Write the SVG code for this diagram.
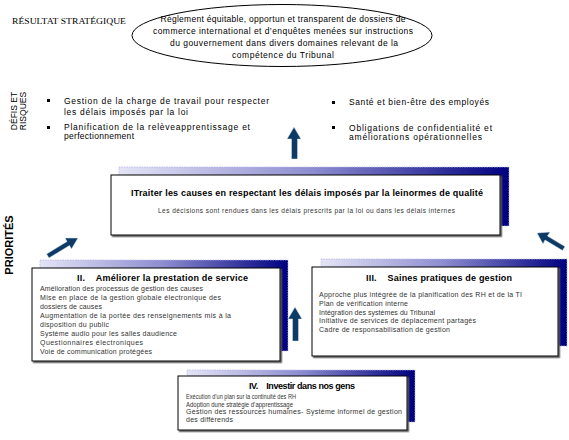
<svg xmlns="http://www.w3.org/2000/svg" width="569" height="440" viewBox="0 0 569 440">
<defs>
<linearGradient id="strip" x1="0" y1="0" x2="1" y2="0">
<stop offset="0" stop-color="#e4e4f6"/>
<stop offset="0.5" stop-color="#8c8cd0"/>
<stop offset="1" stop-color="#000080"/>
</linearGradient>
<filter id="sh" x="-5%" y="-5%" width="110%" height="115%">
<feDropShadow dx="1.5" dy="1.5" stdDeviation="0.4" flood-color="#555" flood-opacity="1"/>
</filter>
</defs>
<style>
.sans{font-family:"Liberation Sans",Arial,sans-serif}
.strip{fill:url(#strip);stroke:#b8b8e8;stroke-width:0.8;stroke-dasharray:1.5 1}
.box{fill:#fff;stroke:#000;stroke-width:1;filter:url(#sh)}
.ttl{font-family:"Liberation Sans",Arial,sans-serif;font-size:9px;font-weight:bold;fill:#000}
.itm{font-family:"Liberation Sans",Arial,sans-serif;font-size:7px;fill:#333}
.sm{font-family:"Liberation Sans",Arial,sans-serif;font-size:6.6px;fill:#333}
.bul{font-family:"Liberation Sans",Arial,sans-serif;font-size:8.5px;fill:#000}
.ell{font-family:"Liberation Sans",Arial,sans-serif;font-size:8.5px;fill:#000;text-anchor:middle}
.arrow{fill:#0e3a66;stroke:#dfe8f2;stroke-width:0.5}
</style>
<g id="strategic-result">
<text x="12" y="24" font-family="Liberation Serif,Times New Roman,serif" font-size="8.5" textLength="114" lengthAdjust="spacingAndGlyphs">RÉSULTAT STRATÉGIQUE</text>
<ellipse cx="282" cy="35.5" rx="150" ry="31" fill="#fff" stroke="#000" stroke-width="1"/>
<text class="ell" x="283" y="22" textLength="245">Règlement équitable, opportun et transparent de dossiers de</text>
<text class="ell" x="283" y="34" textLength="260">commerce international et d’enquêtes menées sur instructions</text>
<text class="ell" x="284" y="46" textLength="228">du gouvernement dans divers domaines relevant de la</text>
<text class="ell" x="283" y="58" textLength="102">compétence du Tribunal</text>
</g>
<g id="challenges">
<text class="sans" font-size="8.5" text-anchor="middle" transform="translate(17,111) rotate(-90)">DÉFIS ET</text>
<text class="sans" font-size="8.5" text-anchor="middle" transform="translate(26,111) rotate(-90)">RISQUES</text>
<rect x="47" y="99" width="3" height="3" fill="#000"/>
<text class="bul" x="64" y="104" textLength="205">Gestion de la charge de travail pour respecter</text>
<text class="bul" x="64" y="114.5" textLength="124">les délais imposés par la loi</text>
<rect x="47" y="126" width="3" height="3" fill="#000"/>
<text class="bul" x="64" y="129.5" textLength="186">Planification de la relèveapprentissage et</text>
<text class="bul" x="64" y="139" textLength="70">perfectionnement</text>
<rect x="332" y="101" width="3" height="3" fill="#000"/>
<text class="bul" x="349" y="105" textLength="140">Santé et bien-être des employés</text>
<rect x="332" y="126" width="3" height="3" fill="#000"/>
<text class="bul" x="349" y="130.5" textLength="143">Obligations de confidentialité et</text>
<text class="bul" x="349" y="140" textLength="133">améliorations opérationnelles</text>
</g>
<g id="priorities-label">
<text class="sans" font-size="11" font-weight="bold" text-anchor="middle" transform="translate(13,245) rotate(-90)">PRIORITÉS</text>
</g>
<g id="main-priority">
<rect class="strip" x="119" y="167" width="390" height="59"/>
<rect class="box" x="111" y="175" width="389" height="60"/>
<text class="ttl" x="131" y="196" textLength="352">ITraiter les causes en respectant les délais imposés par la leinormes de qualité</text>
<text class="sans" x="158" y="213" font-size="6.5" fill="#333" textLength="297">Les décisions sont rendues dans les délais prescrits par la loi ou dans les délais internes</text>
</g>
<g id="priority-2">
<rect class="strip" x="40" y="260" width="248" height="91"/>
<rect class="box" x="32" y="268" width="248" height="93"/>
<text class="ttl" x="77" y="281" textLength="171" xml:space="preserve">II.    Améliorer la prestation de service</text>
<text class="itm" x="40" y="291" textLength="163">Amélioration des processus de gestion des causes</text>
<text class="itm" x="40" y="300" textLength="181">Mise en place de la gestion globale électronique des</text>
<text class="itm" x="40" y="309" textLength="62">dossiers de causes</text>
<text class="itm" x="40" y="318" textLength="191">Augmentation de la portée des renseignements mis à la</text>
<text class="itm" x="40" y="327" textLength="69">disposition du public</text>
<text class="itm" x="40" y="336" textLength="137">Système audio pour les salles daudience</text>
<text class="itm" x="40" y="345" textLength="103">Questionnaires électroniques</text>
<text class="itm" x="40" y="354" textLength="112">Voie de communication protégées</text>
</g>
<g id="priority-3">
<rect class="strip" x="321" y="259" width="246" height="87"/>
<rect class="box" x="312" y="267" width="246" height="89"/>
<text class="ttl" x="366" y="281" textLength="146" xml:space="preserve">III.    Saines pratiques de gestion</text>
<text class="itm" x="319" y="297" textLength="203">Approche plus intégrée de la planification des RH et de la TI</text>
<text class="itm" x="319" y="305.5" textLength="89">Plan de vérification interne</text>
<text class="itm" x="319" y="314.5" textLength="116">Intégration des systèmes du Tribunal</text>
<text class="itm" x="319" y="323" textLength="157">Initiative de services de déplacement partagés</text>
<text class="itm" x="319" y="332" textLength="131">Cadre de responsabilisation de gestion</text>
</g>
<g id="priority-4">
<rect class="strip" x="187" y="370" width="228" height="52"/>
<rect class="box" x="178" y="376" width="229" height="54"/>
<text class="ttl" x="249" y="389" textLength="106" xml:space="preserve">IV.    Investir dans nos gens</text>
<text class="sm" x="186" y="399" textLength="110" lengthAdjust="spacingAndGlyphs">Exécution d’un plan sur la continuité des RH</text>
<text class="sm" x="186" y="406.5" textLength="107" lengthAdjust="spacingAndGlyphs">Adoption dune stratégie d’apprentissage</text>
<text class="itm" x="186" y="414" textLength="216">Gestion des ressources humaines- Système informel de gestion</text>
<text class="itm" x="186" y="421.5" textLength="47">des différends</text>
</g>
<g id="connectors">
<polygon class="arrow" points="294,127 301,139 297.5,139 297.5,159 291.5,159 291.5,139 287,139"/>
<polygon class="arrow" points="295,307 302,319 298.5,319 298.5,341 292.5,341 292.5,319 288,319"/>
<polygon class="arrow" points="78,238 71.5,249 69.5,245.5 49,258 46.5,254 67,241.5 65,238"/>
<polygon class="arrow" points="537,233 550,232 547.5,236 565,246.5 562.5,250.5 545,240 543,244"/>
</g>
</svg>
